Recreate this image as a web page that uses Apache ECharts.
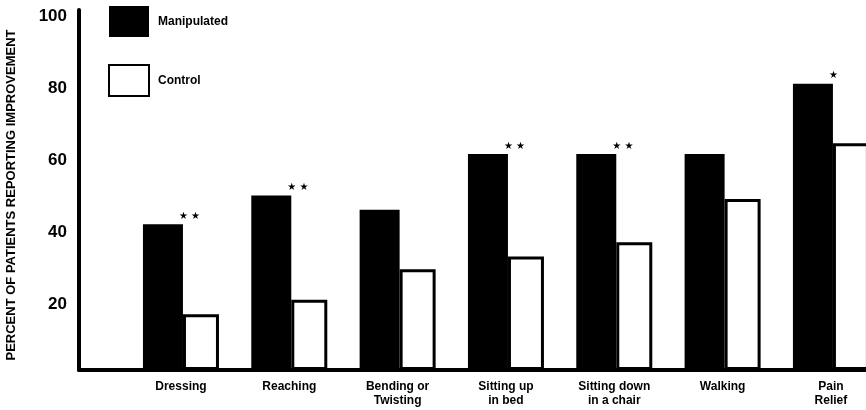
<!DOCTYPE html>
<html>
<head>
<meta charset="utf-8">
<style>
  html, body { margin: 0; padding: 0; background: #fff; }
  #chart { width: 866px; height: 410px; }
</style>
<script src="https://cdn.jsdelivr.net/npm/echarts@6/dist/echarts.min.js"></script>
</head>
<body>
<div id="chart"></div>
<script>
const categories = ['Dressing', 'Reaching', 'Bending or\nTwisting', 'Sitting up\nin bed', 'Sitting down\nin a chair', 'Walking', 'Pain\nRelief'];
const manipulated = [40.5, 48.5, 44.5, 60, 60, 60, 79.5];
const control = [15.5, 19.5, 28, 31.5, 35.5, 47.5, 63];
const significance = ['**', '**', '', '**', '**', '', '*'];
const yTicks = [0, 20, 40, 60, 80, 100];
const yTitle = 'PERCENT OF PATIENTS REPORTING IMPROVEMENT';

const FONT = '"Liberation Sans", Arial, sans-serif';
const chart = echarts.init(document.getElementById('chart'), null, { renderer: 'canvas' });

const option = {
  backgroundColor: '#fff',
  animation: false,
  legend: {
    data: ['Manipulated', 'Control'],
    orient: 'vertical',
    left: 108,
    top: 6,
    padding: 0,
    itemWidth: 40,
    itemHeight: 31,
    itemGap: 27,
    icon: 'rect',
    textStyle: { fontFamily: FONT, fontWeight: 'bold', fontSize: 12, color: '#000', padding: [0, 0, 0, 4] }
  },
  grid: [
    { left: 126.8, width: 758.3, top: 10, bottom: 40, outerBoundsMode: 'none', containLabel: false },
    { left: 79, right: 0, top: 10, bottom: 40, outerBoundsMode: 'none', containLabel: false }
  ],
  xAxis: [
    {
      type: 'category', gridIndex: 0, data: categories,
      axisLine: { show: false }, axisTick: { show: false },
      axisLabel: { interval: 0, margin: 10, fontFamily: FONT, fontWeight: 'bold', fontSize: 12, lineHeight: 14, color: '#000' }
    },
    {
      type: 'value', gridIndex: 1, min: 0, max: 1,
      axisLine: { show: true, lineStyle: { color: '#000', width: 4 } },
      axisTick: { show: false }, axisLabel: { show: false }, splitLine: { show: false }
    }
  ],
  yAxis: [
    {
      type: 'value', gridIndex: 0, min: yTicks[0], max: yTicks[yTicks.length - 1], interval: 20, show: false
    },
    {
      type: 'value', gridIndex: 1, min: yTicks[0], max: yTicks[yTicks.length - 1], interval: 20,
      name: yTitle, nameLocation: 'middle', nameRotate: 90, nameGap: 61,
      nameTextStyle: { fontFamily: FONT, fontWeight: 'bold', fontSize: 13, color: '#000', padding: [0, 10, 0, 0] },
      axisLine: { show: true, lineStyle: { color: '#000', width: 4 } },
      axisTick: { show: false }, splitLine: { show: false },
      axisLabel: {
        showMinLabel: false, margin: 12, fontFamily: FONT, fontWeight: 'bold', fontSize: 17, color: '#000',
        verticalAlign: 'top', lineHeight: 12
      }
    }
  ],
  series: [
    {
      name: 'Manipulated', type: 'bar', xAxisIndex: 0, yAxisIndex: 0,
      data: manipulated, barWidth: 40, barGap: '0%',
      itemStyle: { color: '#000' },
      label: {
        show: true, position: 'top', distance: 3, align: 'left', offset: [16, 0],
        fontFamily: '"DejaVu Sans", sans-serif', fontSize: 10, color: '#000',
        formatter: p => significance[p.dataIndex].split('').map(() => '\u2605').join(' ')
      }
    },
    {
      name: 'Control', type: 'bar', xAxisIndex: 0, yAxisIndex: 0,
      data: control, barWidth: 36, barGap: '0%',
      itemStyle: { color: '#fff', borderColor: '#000', borderWidth: 3 }
    }
  ]
};
chart.setOption(option);
</script>
</body>
</html>
